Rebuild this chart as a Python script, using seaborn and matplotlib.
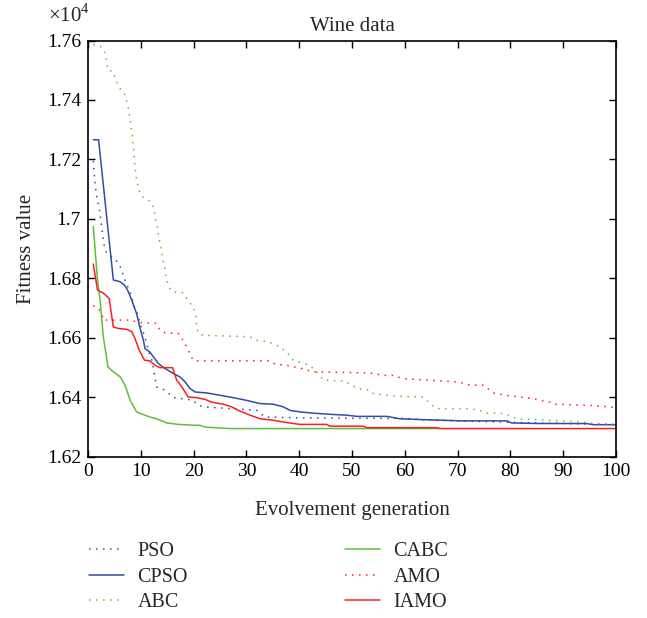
import matplotlib
matplotlib.use("Agg")
import matplotlib.pyplot as plt
import numpy as np
import pandas as pd
import seaborn as sns

# ---------------- data (fitness values in units of 1e4) ----------------
pso_gen = [1, 1.3, 1.6, 2.1, 2.5, 2.9, 3.1, 3.5, 4.5, 5.5, 6.1, 7, 8.3, 8.6, 9, 9.5, 9.8,
           10.3, 10.8, 11.1, 11.4, 12.1, 12.4, 12.6, 13, 14, 15, 16, 17, 18.5, 20, 21, 22,
           27, 30, 32, 33.5, 40, 60, 64, 70, 80, 90, 100]
pso_val = [1.7195, 1.7125, 1.7080, 1.7037, 1.6986, 1.6929, 1.6906, 1.6885, 1.6872, 1.6856,
           1.6839, 1.6794, 1.6738, 1.6710, 1.6693, 1.6676, 1.6649, 1.6625, 1.6603, 1.6581,
           1.6558, 1.6524, 1.6496, 1.6474, 1.6434, 1.6429, 1.6417, 1.6400, 1.6396, 1.6394,
           1.6387, 1.6372, 1.6367, 1.6361, 1.6358, 1.6355, 1.6333, 1.6330, 1.6328, 1.6323,
           1.6320, 1.6315, 1.6311, 1.6307]

cpso_gen = [1, 2, 4.8, 6.1, 6.9, 7.5, 8.3, 9.2, 9.8, 10.5, 10.8, 11.7, 12.4, 13.3, 14.6, 16.2,
            17.4, 18.4, 19.3, 20.3, 22.5, 25, 27.5, 30, 32.6, 35.1, 37, 38.3, 40.2, 42.6, 45.8,
            49, 51, 56.6, 59, 63.5, 67.3, 70.5, 79.3, 80.2, 85.3, 94.4, 95.7, 100]
cpso_val = [1.7266, 1.7266, 1.6794, 1.6788, 1.6777, 1.6760, 1.6726, 1.6681, 1.6636, 1.6591,
            1.6563, 1.6552, 1.6535, 1.6513, 1.6496, 1.6479, 1.6468, 1.6451, 1.6429, 1.6417,
            1.6414, 1.6406, 1.6398, 1.6389, 1.6378, 1.6376, 1.6367, 1.6355, 1.6350, 1.6346,
            1.6342, 1.6339, 1.6335, 1.6335, 1.6327, 1.6324, 1.6322, 1.6320, 1.6320, 1.6313,
            1.6311, 1.6311, 1.6307, 1.6307]

abc_gen = [1, 2.3, 3, 3.4, 3.8, 4.7, 5.6, 6.2, 7, 7.6, 8, 8.3, 8.6, 8.9, 9.2, 9.8, 10.6, 11.7,
           12.3, 12.6, 12.8, 13.1, 13.3, 13.5, 13.8, 14, 14.1, 14.5, 14.6, 14.9, 15.2, 15.7,
           16.8, 18, 18.7, 19.6, 20.3, 20.5, 20.6, 20.9, 21.8, 30.7, 31.9, 34.1, 35.7, 37.6,
           38.9, 40.8, 42, 43.9, 44.6, 48.4, 49.6, 50.9, 53.4, 54, 57.8, 63.5, 64.8, 66, 72.3,
           74.2, 75.5, 78, 79.6, 81.2, 85, 89.4, 93.8, 95.7, 100]
abc_val = [1.7587, 1.7581, 1.7567, 1.7547, 1.7500, 1.7496, 1.7454, 1.7435, 1.7418, 1.7376,
           1.7334, 1.7289, 1.7243, 1.7176, 1.7131, 1.7087, 1.7069, 1.7060, 1.7042, 1.7021,
           1.6996, 1.6976, 1.6951, 1.6929, 1.6909, 1.6884, 1.6864, 1.6841, 1.6818, 1.6796,
           1.6777, 1.6758, 1.6752, 1.6751, 1.6732, 1.6710, 1.6687, 1.6661, 1.6636, 1.6614,
           1.6608, 1.6603, 1.6591, 1.6586, 1.6575, 1.6552, 1.6524, 1.6513, 1.6507, 1.6473,
           1.6457, 1.6454, 1.6445, 1.6429, 1.6423, 1.6412, 1.6403, 1.6400, 1.6378, 1.6361,
           1.6361, 1.6355, 1.6346, 1.6346, 1.6339, 1.6327, 1.6324, 1.6320, 1.6316, 1.6311,
           1.6308]

cabc_gen = [1, 1.8, 2.3, 2.9, 3.8, 4.8, 6.1, 7, 8, 9.2, 10.5, 11.7, 13, 14.9, 17.1, 20.3,
            21.2, 22.2, 26.9, 66.7]
cabc_val = [1.6974, 1.6794, 1.6726, 1.6603, 1.6501, 1.6485, 1.6468, 1.6440, 1.6389, 1.6350,
            1.6341, 1.6333, 1.6327, 1.6313, 1.6308, 1.6305, 1.6305, 1.6299, 1.6294, 1.6294]

amo_gen = [1, 2, 2.6, 2.9, 7.6, 9.5, 10.5, 13, 13.6, 14.6, 17.1, 18, 18.7, 19.3, 19.9, 20.6,
           34.5, 35.4, 37.6, 40.5, 42.7, 53.4, 55.9, 57.8, 59.7, 69.8, 71, 72.3, 74.9, 76.8,
           79, 84.3, 87.5, 88.1, 95.1, 98.9, 100]
amo_val = [1.6708, 1.6698, 1.6681, 1.6659, 1.6659, 1.6653, 1.6650, 1.6648, 1.6625, 1.6616,
           1.6614, 1.6591, 1.6569, 1.6546, 1.6524, 1.6522, 1.6522, 1.6511, 1.6507, 1.6496,
           1.6485, 1.6481, 1.6473, 1.6473, 1.6462, 1.6451, 1.6447, 1.6440, 1.6440, 1.6414,
           1.6406, 1.6395, 1.6383, 1.6376, 1.6372, 1.6367, 1.6364]

iamo_gen = [1, 1.8, 2.9, 4, 4.8, 5.7, 7.3, 8.3, 8.9, 9.7, 10.7, 11.7, 12.7, 13.6, 16, 16.8,
            17.7, 19, 20.6, 22.2, 23.4, 25.6, 27.2, 28.5, 30.7, 32.6, 35.1, 37, 38.9, 40.2,
            45.2, 45.8, 52.1, 52.8, 66, 66.7, 100]
iamo_val = [1.6848, 1.6760, 1.6750, 1.6732, 1.6636, 1.6631, 1.6628, 1.6620, 1.6597, 1.6558,
            1.6524, 1.6522, 1.6507, 1.6499, 1.6499, 1.6457, 1.6436, 1.6400, 1.6398, 1.6392,
            1.6383, 1.6376, 1.6367, 1.6355, 1.6339, 1.6327, 1.6322, 1.6316, 1.6311, 1.6308,
            1.6308, 1.6302, 1.6302, 1.6297, 1.6297, 1.6294, 1.6294]

names = ["PSO", "CPSO", "ABC", "CABC", "AMO", "IAMO"]
x_ticks = [0, 10, 20, 30, 40, 50, 60, 70, 80, 90, 100]
y_ticks = [1.62, 1.64, 1.66, 1.68, 1.70, 1.72, 1.74, 1.76]

# ---------------- style ----------------
sns.set_style("ticks")
plt.rcParams["font.family"] = ["Liberation Serif", "DejaVu Serif"]
plt.rcParams["mathtext.fontset"] = "custom"
plt.rcParams["mathtext.rm"] = "Liberation Serif"

W, H = 647, 618
fig = plt.figure(figsize=(W / 100, H / 100), dpi=100)
ax = fig.add_axes([88 / W, 1 - 456.5 / H, (616 - 88) / W, (456.5 - 40.5) / H])

blue = "#2f4fa6"
green = "#62bd3e"
red = "#ff1e1e"
dot = (0, (1, 3.6))
styles = {
    "PSO": (blue, dot),
    "CPSO": (blue, "-"),
    "ABC": (green, dot),
    "CABC": (green, "-"),
    "AMO": (red, dot),
    "IAMO": (red, "-"),
}
data = {
    "PSO": (pso_gen, pso_val),
    "CPSO": (cpso_gen, cpso_val),
    "ABC": (abc_gen, abc_val),
    "CABC": (cabc_gen, cabc_val),
    "AMO": (amo_gen, amo_val),
    "IAMO": (iamo_gen, iamo_val),
}

for name in names:
    g, v = data[name]
    df = pd.DataFrame({"gen": g, "val": v})
    c, ls = styles[name]
    sns.lineplot(data=df, x="gen", y="val", ax=ax, color=c, linestyle=ls,
                 linewidth=1.1, label=name, estimator=None, sort=False)

ax.set_xlim(0, 100)
ax.set_ylim(1.62, 1.76)
ax.set_xticks(x_ticks)
ax.set_yticks(y_ticks)
ax.set_xticklabels([f"{t:g}" for t in x_ticks])
ax.set_yticklabels([f"{t:g}" for t in y_ticks])
ax.tick_params(direction="in", length=5, width=1.0, top=True, right=True,
               labelsize=14, colors="black", pad=5)
for s in ax.spines.values():
    s.set_visible(True)
    s.set_linewidth(1.2)
    s.set_color("black")

ax.set_xlabel("Evolvement generation", fontsize=15, labelpad=15)
ax.set_ylabel("Fitness value", fontsize=15, labelpad=8)
ax.set_title("Wine data", fontsize=15, pad=7)
fig.text(48 / W, 1 - 16 / H, r"×10$^{4}$", fontsize=15, ha="left", va="center")

handles, labels = ax.get_legend_handles_labels()
ax.legend(handles, labels, loc="upper left", bbox_to_anchor=(71 / W, 1 - 524 / H),
          bbox_transform=fig.transFigure, ncol=2, frameon=False, fontsize=14.5,
          handlelength=1.75, handletextpad=0.65, columnspacing=7.8, labelspacing=0.32)

fig.savefig("out.png", dpi=100)
